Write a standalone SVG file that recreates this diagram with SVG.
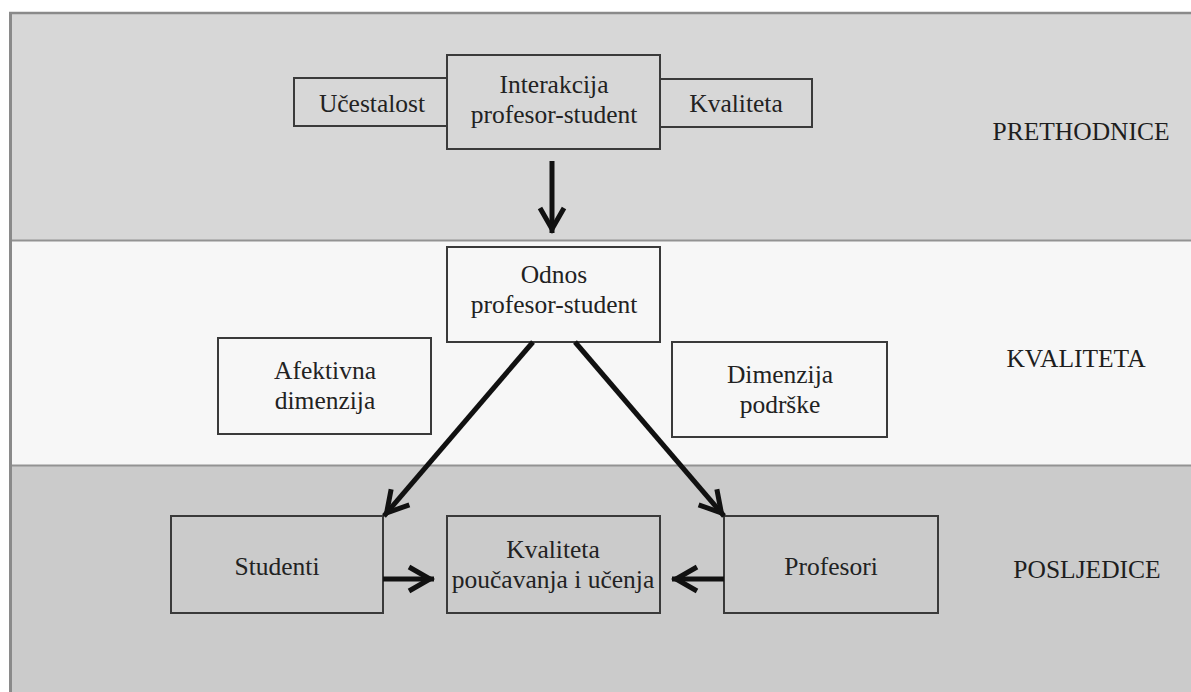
<svg xmlns="http://www.w3.org/2000/svg" width="1191" height="692" viewBox="0 0 1191 692">
  <style>
    .band-sep { stroke: #939393; stroke-width: 2; }
    .box { stroke: #3a3a3a; stroke-width: 2; }
    .t { font-family: "Liberation Serif", "Times New Roman", serif; font-size: 25.5px; fill: #222; text-anchor: middle; }
    .lbl { font-family: "Liberation Serif", "Times New Roman", serif; font-size: 25.5px; fill: #1e1e1e; text-anchor: middle; }
    .arrow { stroke: #111; stroke-width: 5; fill: none; marker-end: url(#head); }
  </style>
  <defs>
    <marker id="head" markerUnits="userSpaceOnUse" markerWidth="36" markerHeight="36" viewBox="-30 -18 36 36" refX="4" refY="0" orient="auto">
      <path d="M-21,-12 L0,0 L-21,12" fill="none" stroke="#111" stroke-width="5" stroke-linejoin="miter"/>
    </marker>
  </defs>

  <rect x="0" y="0" width="1191" height="692" fill="#ffffff"/>

  <g id="bands">
    <rect x="10" y="12" width="1181" height="229" fill="#d7d7d7"/>
    <rect x="10" y="241" width="1181" height="224" fill="#f7f7f7"/>
    <rect x="10" y="465" width="1181" height="227" fill="#cbcbcb"/>
    <line class="band-sep" x1="10" y1="240.5" x2="1191" y2="240.5"/>
    <line class="band-sep" x1="10" y1="465.5" x2="1191" y2="465.5"/>
    <line x1="9" y1="13" x2="1191" y2="13" stroke="#8a8a8a" stroke-width="2.5"/>
    <line x1="10.5" y1="12" x2="10.5" y2="692" stroke="#8a8a8a" stroke-width="3"/>
  </g>

  <g id="ucestalost">
    <rect class="box" x="294" y="78" width="153" height="48" fill="#d7d7d7"/>
    <text class="t" x="372" y="112">Učestalost</text>
  </g>
  <g id="kvaliteta-top">
    <rect class="box" x="660" y="79" width="152" height="48" fill="#d7d7d7"/>
    <text class="t" x="736" y="112">Kvaliteta</text>
  </g>
  <g id="interakcija">
    <rect class="box" x="447" y="55" width="213" height="94" fill="#d7d7d7"/>
    <text class="t" x="554" y="93">Interakcija</text>
    <text class="t" x="554" y="123">profesor-student</text>
  </g>

  <g id="odnos">
    <rect class="box" x="447" y="247" width="213" height="95" fill="#f7f7f7"/>
    <text class="t" x="554" y="283">Odnos</text>
    <text class="t" x="554" y="313">profesor-student</text>
  </g>
  <g id="afektivna">
    <rect class="box" x="218" y="338" width="213" height="96" fill="#f7f7f7"/>
    <text class="t" x="325" y="379">Afektivna</text>
    <text class="t" x="325" y="409">dimenzija</text>
  </g>
  <g id="dimenzija">
    <rect class="box" x="672" y="342" width="215" height="95" fill="#f7f7f7"/>
    <text class="t" x="780" y="383">Dimenzija</text>
    <text class="t" x="780" y="413">podrške</text>
  </g>

  <g id="studenti">
    <rect class="box" x="171" y="516" width="212" height="97" fill="#cbcbcb"/>
    <text class="t" x="277" y="575">Studenti</text>
  </g>
  <g id="kvaliteta-poucavanja">
    <rect class="box" x="447" y="516" width="213" height="97" fill="#cbcbcb"/>
    <text class="t" x="553" y="558">Kvaliteta</text>
    <text class="t" x="553" y="588">poučavanja i učenja</text>
  </g>
  <g id="profesori">
    <rect class="box" x="724" y="516" width="214" height="97" fill="#cbcbcb"/>
    <text class="t" x="831" y="575">Profesori</text>
  </g>

  <g id="labels">
    <text class="lbl" x="1081" y="140">PRETHODNICE</text>
    <text class="lbl" x="1076" y="367">KVALITETA</text>
    <text class="lbl" x="1087" y="578">POSLJEDICE</text>
  </g>

  <g id="connectors">
    <line class="arrow" x1="552" y1="161" x2="552" y2="233"/>
    <line class="arrow" x1="533" y1="342" x2="384" y2="516"/>
    <line class="arrow" x1="575" y1="342" x2="724" y2="516"/>
    <line class="arrow" x1="383" y1="579" x2="434" y2="579"/>
    <line class="arrow" x1="724" y1="579" x2="672" y2="579"/>
  </g>
</svg>
